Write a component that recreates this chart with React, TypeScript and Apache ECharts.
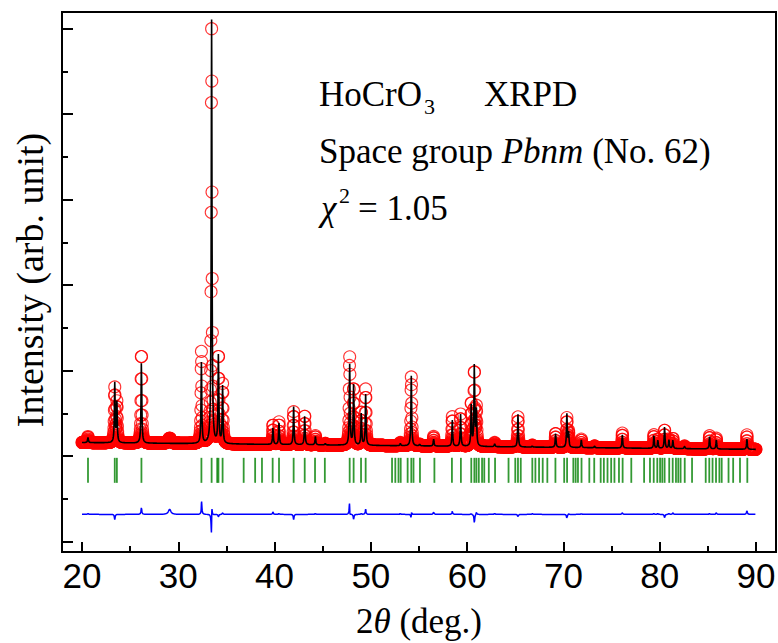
import React, { useEffect, useRef } from "react";
import * as echarts from "echarts";

// ---- scan ----
const scanStart = 20;
const scanEnd = 90;
const scanStep = 0.02;
const backgroundLevels = [1.16, 1.08]; // at scanStart, scanEnd
const peakFwhm = 0.094;

// ---- reflections (2θ, calculated top, observed top) ----
const peakPos = [20.62, 23.40, 23.62, 26.17, 32.40, 33.46, 34.17, 34.60, 39.83, 40.46, 41.98, 43.13, 44.24, 45.27, 47.80, 48.21, 49.01, 49.46, 53.06, 54.20, 55.07, 56.52, 58.46, 59.32, 60.43, 60.75, 60.96, 62.86, 65.28, 66.77, 69.19, 70.36, 70.54, 71.86, 73.24, 76.12, 79.40, 79.81, 80.51, 80.96, 81.37, 82.58, 85.18, 85.88, 89.06];
const peakCalc = [1.22, 1.85, 1.62, 2.13, 2.09, 6.10, 2.21, 1.81, 1.34, 1.39, 1.58, 1.48, 1.23, 1.15, 2.07, 1.86, 1.51, 1.72, 1.15, 1.94, 1.14, 1.20, 1.42, 1.49, 1.61, 2.09, 1.52, 1.15, 1.49, 1.12, 1.27, 1.49, 1.27, 1.19, 1.12, 1.25, 1.24, 1.19, 1.35, 1.19, 1.19, 1.12, 1.23, 1.19, 1.20];
const peakObs = [1.23, 1.79, 1.62, 2.21, 2.22, 6.00, 2.18, 1.83, 1.37, 1.40, 1.52, 1.48, 1.24, 1.15, 2.16, 1.80, 1.52, 1.78, 1.16, 1.93, 1.14, 1.23, 1.46, 1.49, 1.62, 1.99, 1.55, 1.16, 1.46, 1.13, 1.27, 1.44, 1.28, 1.20, 1.12, 1.27, 1.25, 1.20, 1.31, 1.20, 1.21, 1.12, 1.24, 1.21, 1.25];
const peakShift = [0, 0, 0, 0, 0.003, 0.002, 0, 0, 0, 0, 0, 0, 0, 0, -0.004, 0, 0, 0, 0, 0.003, 0, 0, 0, 0, 0, 0, 0, 0, 0, 0, 0, 0, 0, 0, 0, 0, 0, 0, 0, 0, 0, 0, 0, 0, 0];

// weak unmodelled hump in the observed data
const humpPos = [29.1];
const humpHeight = [0.06];
const humpFwhm = [0.3];

// ---- Bragg reflection positions ----
const braggPos = [20.62, 23.40, 23.62, 26.17, 32.40, 33.46, 34.04, 34.17, 34.60, 36.79, 37.98, 38.69, 39.80, 40.46, 41.98, 43.13, 44.20, 45.22, 47.80, 48.21, 48.98, 49.46, 52.20, 52.54, 52.87, 53.10, 53.82, 54.20, 54.43, 55.10, 56.60, 58.42, 59.35, 60.43, 60.75, 60.96, 61.21, 61.55, 61.78, 62.25, 62.90, 64.30, 65.00, 65.28, 65.57, 66.77, 67.09, 67.47, 67.85, 68.33, 69.17, 70.08, 70.38, 71.03, 71.27, 71.51, 71.88, 72.69, 73.20, 73.87, 74.20, 74.58, 74.96, 75.30, 75.77, 76.15, 77.05, 78.38, 78.99, 79.38, 79.75, 80.04, 80.27, 80.51, 80.99, 81.35, 81.69, 81.93, 82.17, 82.60, 83.36, 84.78, 85.15, 85.49, 85.85, 86.20, 86.44, 87.15, 87.63, 88.34, 89.10];
const braggLevel = 0.835;
const diffOffset = 0.32;

// ---- axes ----
const xMin = 17.92;
const xMax = 92.08;
const yMin = -0.12;
const yMax = 6.195;
const xMajorTicks = [20, 30, 40, 50, 60, 70, 80, 90];
const xMinorTicks = [25, 35, 45, 55, 65, 75, 85];
const yMajorTicks = [0, 1, 2, 3, 4, 5, 6];
const yMinorTicks = [0.5, 1.5, 2.5, 3.5, 4.5, 5.5];

const SERIF = '"Liberation Serif", "Times New Roman", serif';
const SANS = '"Liberation Sans", Arial, sans-serif';

function bgAt(x: number) {
  return backgroundLevels[0] + (backgroundLevels[1] - backgroundLevels[0]) * (x - scanStart) / (scanEnd - scanStart);
}
function lor(x: number, c: number, h: number, w: number) {
  const t = (2 * (x - c)) / w;
  return h / (1 + t * t);
}

function buildPatterns() {
  const obs: number[][] = [];
  const calc: number[][] = [];
  const diff: number[][] = [];
  const n = Math.round((scanEnd - scanStart) / scanStep);
  for (let i = 0; i <= n; i++) {
    const x = Math.round((scanStart + i * scanStep) * 100) / 100;
    const bg = bgAt(x);
    let c = bg;
    let o = bg;
    for (let k = 0; k < peakPos.length; k++) {
      const b = bgAt(peakPos[k]);
      c += lor(x, peakPos[k], peakCalc[k] - b, peakFwhm);
      o += lor(x, peakPos[k] + peakShift[k], peakObs[k] - b, peakFwhm);
    }
    for (let k = 0; k < humpPos.length; k++) {
      o += lor(x, humpPos[k], humpHeight[k], humpFwhm[k]);
    }
    obs.push([x, o]);
    calc.push([x, c]);
    diff.push([x, o - c + diffOffset]);
  }
  return { obs, calc, diff };
}

function txt(x: number, y: number, text: string, fontSize: number, extra: any = {}) {
  return {
    type: "text",
    x,
    y,
    style: { text, fontSize, fontFamily: SERIF, fill: "#000", textAlign: "left", textVerticalAlign: "middle", ...extra },
  };
}

export default function App() {
  const ref = useRef<HTMLDivElement>(null);
  useEffect(() => {
    if (!ref.current) return;
    const chart = echarts.init(ref.current, undefined, { renderer: "svg" });
    const { obs, calc, diff } = buildPatterns();
    const bragg = braggPos.map((p) => [p, braggLevel]);
    const tickStyle = { color: "#000", width: 2 };
    const baseX = {
      type: "value",
      min: xMin,
      max: xMax,
      position: "bottom",
      splitLine: { show: false },
    };
    const baseY = {
      type: "value",
      min: yMin,
      max: yMax,
      position: "left",
      splitLine: { show: false },
      axisLabel: { show: false },
    };
    chart.setOption({
      animation: false,
      backgroundColor: "#fff",
      grid: {
        left: 62,
        top: 12,
        width: 714,
        height: 540,
        show: true,
        borderColor: "#000",
        borderWidth: 2,
        backgroundColor: "transparent",
        containLabel: false,
        outerBoundsMode: "none",
      },
      xAxis: [
        {
          ...baseX,
          axisLine: { show: true, onZero: false, lineStyle: tickStyle },
          axisTick: { show: true, inside: true, length: 10, customValues: xMajorTicks, lineStyle: tickStyle },
          axisLabel: {
            show: true,
            customValues: xMajorTicks,
            margin: 6,
            color: "#000",
            fontSize: 35,
            fontFamily: SANS,
          },
          name: "2{i|θ} (deg.)",
          nameLocation: "middle",
          nameGap: 52,
          nameTextStyle: {
            color: "#000",
            fontSize: 35,
            fontFamily: SERIF,
            rich: { i: { fontStyle: "italic", fontSize: 35, fontFamily: SERIF, color: "#000" } },
          },
        },
        {
          ...baseX,
          axisLine: { show: false, onZero: false },
          axisTick: { show: true, inside: true, length: 6, customValues: xMinorTicks, lineStyle: tickStyle },
          axisLabel: { show: false },
        },
      ],
      yAxis: [
        {
          ...baseY,
          axisLine: { show: true, onZero: false, lineStyle: tickStyle },
          axisTick: { show: true, inside: true, length: 11, customValues: yMajorTicks, lineStyle: tickStyle },
        },
        {
          ...baseY,
          axisLine: { show: false, onZero: false },
          axisTick: { show: true, inside: true, length: 6, customValues: yMinorTicks, lineStyle: tickStyle },
        },
      ],
      series: [
        {
          name: "Bragg",
          type: "scatter",
          data: bragg,
          symbol: "rect",
          symbolSize: [1.8, 25],
          itemStyle: { color: "#008000" },
          silent: true,
          z: 1,
          emphasis: { disabled: true },
        },
        {
          name: "Observed",
          type: "scatter",
          data: obs,
          symbol: "circle",
          symbolSize: 12,
          itemStyle: { color: "rgba(0,0,0,0)", borderColor: "#ff0000", borderWidth: 1.1 },
          progressive: 0,
          large: false,
          silent: true,
          z: 2,
          emphasis: { disabled: true },
        },
        {
          name: "Calculated",
          type: "line",
          data: calc,
          showSymbol: false,
          symbol: "none",
          lineStyle: { color: "#000", width: 1.6 },
          silent: true,
          z: 3,
          emphasis: { disabled: true },
        },
        {
          name: "Difference",
          type: "line",
          data: diff,
          showSymbol: false,
          symbol: "none",
          lineStyle: { color: "#0000ff", width: 1.5 },
          silent: true,
          z: 3,
          emphasis: { disabled: true },
        },
      ],
      graphic: [
        {
          type: "text",
          x: 30,
          y: 280,
          rotation: Math.PI / 2,
          style: { text: "Intensity (arb. unit)", fontSize: 38, fontFamily: SERIF, fill: "#000", textAlign: "center", textVerticalAlign: "middle" },
        },
        txt(319, 94, "HoCrO", 35),
        txt(424, 106, "3", 22),
        txt(484, 94, "XRPD", 35),
        txt(319, 151, "Space group {i|Pbnm} (No. 62)", 35, {
          rich: { i: { fontStyle: "italic", fontSize: 35, fontFamily: SERIF, fill: "#000" } },
        }),
        txt(321, 208, "χ", 35, { fontStyle: "italic" }),
        txt(339, 195, "2", 22),
        txt(358, 208, "= 1.05", 35),
      ],
    });
    return () => chart.dispose();
  }, []);
  return <div ref={ref} style={{ position: "fixed", left: 0, top: 0, width: 778, height: 643 }} />;
}
